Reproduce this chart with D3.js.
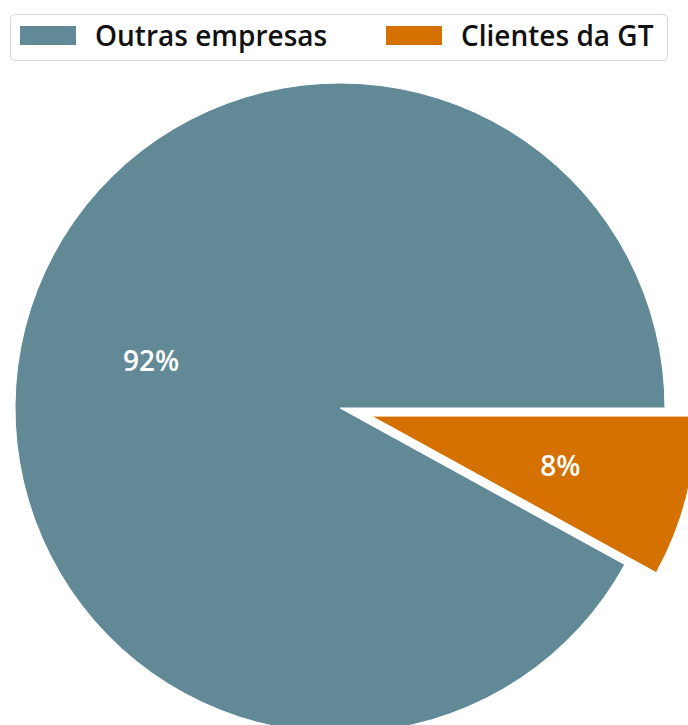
<!DOCTYPE html>
<html>
<head>
<meta charset="utf-8">
<script src="https://cdn.jsdelivr.net/npm/d3@7"></script>
<style>
  body { margin: 0; background: #fff; }
  text { font-family: "Open Sans", Lato, sans-serif; }
</style>
</head>
<body>
<div class="canvas"></div>
<script>
// data
const categories = ['Outras empresas', 'Clientes da GT'];
const values = [92, 8];
const colors = ['#628a96', '#d47100'];
const explode = [0, 0.1];

const width = 688;
const height = 725;

const svg = d3.select('.canvas')
  .append('svg')
  .attr('width', width)
  .attr('height', height);

// pie geometry
const cx = 340, cy = 408, radius = 325;

const data = categories.map((c, i) => ({name: c, value: values[i], color: colors[i], explode: explode[i]}));

// start at 3 o'clock, go counterclockwise (like matplotlib)
const pie = d3.pie()
  .sort(null)
  .value(d => d.value)
  .startAngle(Math.PI / 2)
  .endAngle(Math.PI / 2 - 2 * Math.PI);

const arc = d3.arc()
  .innerRadius(0)
  .outerRadius(radius);

const arcs = pie(data);

const offset = d => {
  const a = (d.startAngle + d.endAngle) / 2;
  const r = d.data.explode * radius;
  return [Math.sin(a) * r, -Math.cos(a) * r];
};

const graph = svg.append('g')
  .attr('transform', `translate(${cx},${cy})`);

const slices = graph.selectAll('g.slice')
  .data(arcs)
  .enter()
  .append('g')
    .attr('class', 'slice')
    .attr('transform', d => `translate(${offset(d)})`);

slices.append('path')
  .attr('d', arc)
  .attr('fill', d => d.data.color)
  .attr('stroke', '#fff')
  .attr('stroke-width', 1);

const total = d3.sum(values);
slices.append('text')
  .attr('transform', d => {
    const a = (d.startAngle + d.endAngle) / 2;
    const r = radius * 0.6;
    return `translate(${Math.sin(a) * r},${-Math.cos(a) * r})`;
  })
  .attr('text-anchor', 'middle')
  .attr('dominant-baseline', 'central')
  .attr('fill', '#fff')
  .attr('font-size', '28px')
  .attr('font-weight', 600)
  .text(d => Math.round(d.data.value / total * 100) + '%');

// legend
const legend = svg.append('g');

legend.append('rect')
  .attr('x', 10.5)
  .attr('y', 14.5)
  .attr('width', 657)
  .attr('height', 46)
  .attr('rx', 4)
  .attr('fill', '#fff')
  .attr('stroke', '#d8d8d8');

const legendX = d3.scaleOrdinal()
  .domain(categories)
  .range([20, 386]);

const items = legend.selectAll('g.item')
  .data(data)
  .enter()
  .append('g')
    .attr('class', 'item')
    .attr('transform', d => `translate(${legendX(d.name)},26)`);

items.append('rect')
  .attr('width', 56)
  .attr('height', 19)
  .attr('fill', d => d.color);

items.append('text')
  .attr('x', 75)
  .attr('y', 9)
  .attr('dominant-baseline', 'central')
  .attr('font-size', '28px')
  .attr('font-weight', 600)
  .attr('fill', '#111')
  .text(d => d.name);
</script>
</body>
</html>
